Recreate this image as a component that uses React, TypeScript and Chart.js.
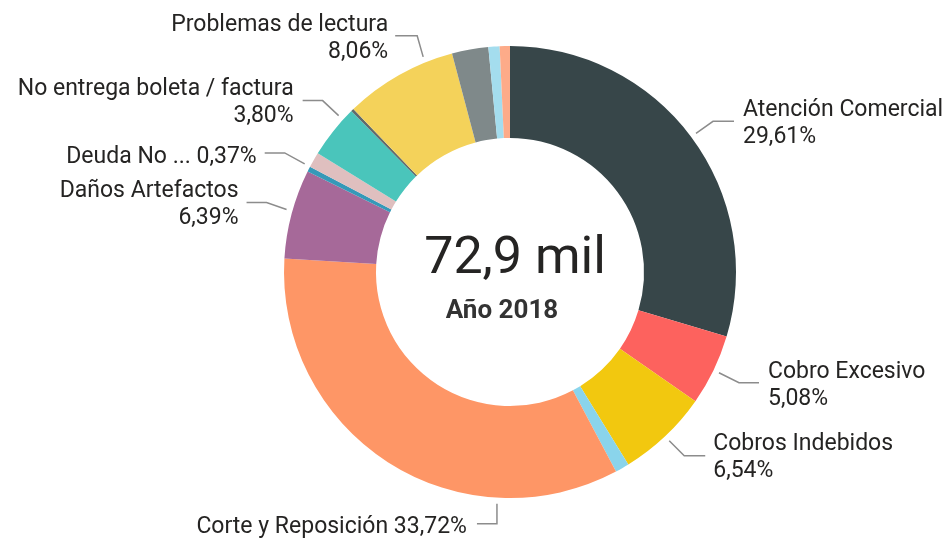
import React, { useEffect, useRef } from "react";
import { Chart, registerables } from "chart.js";

Chart.register(...registerables);

// ---- data ----
const categories = [
  "Atención Comercial",
  "Cobro Excesivo",
  "Cobros Indebidos",
  "Otros A",
  "Corte y Reposición",
  "Daños Artefactos",
  "Deuda No ...",
  "Otros B",
  "No entrega boleta / factura",
  "Otros C",
  "Problemas de lectura",
  "Otros D",
  "Otros E",
  "Otros F",
];
const shares = [29.61, 5.08, 6.54, 1.0, 33.72, 6.39, 0.37, 1.1, 3.8, 0.2, 8.06, 2.6, 0.8, 0.73];
const colors = [
  "#374649", "#FD625E", "#F2C80F", "#8AD4EB", "#FE9666", "#A66999", "#3599B8",
  "#DFBFBF", "#4AC5BB", "#5F6B6D", "#F4D25A", "#7F898A", "#A4DDEE", "#FDAB89",
];
const totalLabel = "72,9 mil";
const subtitle = "Año 2018";

// ---- label layout (index of slice, placement) ----
type LabelLayout = {
  i: number; t: number; dx: number; dy: number; hLen: number; side: 1 | -1;
  gap: number; single: boolean;
};
const labelLayout: LabelLayout[] = [
  { i: 0, t: 0.5, dx: 17, dy: -12, hLen: 21, side: 1, gap: 9, single: false },
  { i: 1, t: 0.5, dx: 20, dy: 10, hLen: 20, side: 1, gap: 9, single: false },
  { i: 2, t: 0.5, dx: 15, dy: 15, hLen: 21, side: 1, gap: 8, single: false },
  { i: 4, t: 0.257, dx: 0, dy: 20, hLen: 20, side: -1, gap: 10, single: true },
  { i: 5, t: 0.53, dx: -20, dy: -7, hLen: 20, side: -1, gap: 8, single: false },
  { i: 6, t: 1.0, dx: -20, dy: -11, hLen: 20, side: -1, gap: 8, single: true },
  { i: 8, t: 0.78, dx: -16, dy: -15, hLen: 20, side: -1, gap: 9, single: false },
  { i: 10, t: 0.755, dx: -6, dy: -21, hLen: 22, side: -1, gap: 7, single: false },
];

const fmtPct = (v: number) => v.toFixed(2).replace(".", ",") + "%";

const labelPlugin = {
  id: "pbiLabels",
  afterDraw(chart: any) {
    const ctx = chart.ctx as CanvasRenderingContext2D;
    const meta = chart.getDatasetMeta(0);
    ctx.save();
    for (const L of labelLayout) {
      const arc = meta.data[L.i] as any;
      if (!arc) continue;
      const a = arc.startAngle + (arc.endAngle - arc.startAngle) * L.t;
      const r = arc.outerRadius + 6;
      const sx = arc.x + Math.cos(a) * r;
      const sy = arc.y + Math.sin(a) * r;
      const ex = sx + L.dx;
      const ey = sy + L.dy;
      const hx = ex + L.side * L.hLen;
      ctx.strokeStyle = "#8c8c8c";
      ctx.lineWidth = 1.5;
      ctx.beginPath();
      ctx.moveTo(sx, sy);
      ctx.lineTo(ex, ey);
      ctx.lineTo(hx, ey);
      ctx.stroke();
      const tx = hx + L.side * L.gap;
      ctx.fillStyle = "#252423";
      ctx.font = "23px Roboto";
      ctx.textAlign = L.side === 1 ? "left" : "right";
      ctx.textBaseline = "middle";
      const name = categories[L.i];
      const pct = fmtPct(shares[L.i]);
      if (L.single) {
        ctx.fillText(name + " " + pct, tx, ey + 4);
      } else {
        ctx.fillText(name, tx, ey - 11);
        ctx.fillText(pct, tx, ey + 16);
      }
    }
    // center text
    const a0 = meta.data[0] as any;
    if (a0) {
      ctx.textAlign = "center";
      ctx.textBaseline = "alphabetic";
      ctx.fillStyle = "#252423";
      ctx.font = "52px Roboto";
      ctx.fillText(totalLabel, a0.x + 5, a0.y + 1);
      ctx.fillStyle = "#333333";
      ctx.font = "bold 26px Roboto";
      ctx.fillText(subtitle, a0.x - 8, a0.y + 46);
    }
    ctx.restore();
  },
};

export default function App() {
  const ref = useRef<HTMLCanvasElement | null>(null);
  useEffect(() => {
    if (!ref.current) return;
    const chart = new Chart(ref.current, {
      type: "doughnut",
      data: {
        labels: categories,
        datasets: [
          {
            data: shares,
            backgroundColor: colors,
            borderWidth: 0,
          },
        ],
      },
      options: {
        responsive: false,
        animation: false,
        cutout: "59.3%",
        layout: { padding: { left: 284, right: 213, top: 46, bottom: 40 } },
        plugins: {
          legend: { display: false },
          tooltip: { enabled: false },
        },
      },
      plugins: [labelPlugin],
    });
    return () => chart.destroy();
  }, []);
  return (
    <div style={{ position: "absolute", left: 0, top: 0, width: 949, height: 538, background: "#fff" }}>
      <canvas ref={ref} width={949} height={538} />
    </div>
  );
}
